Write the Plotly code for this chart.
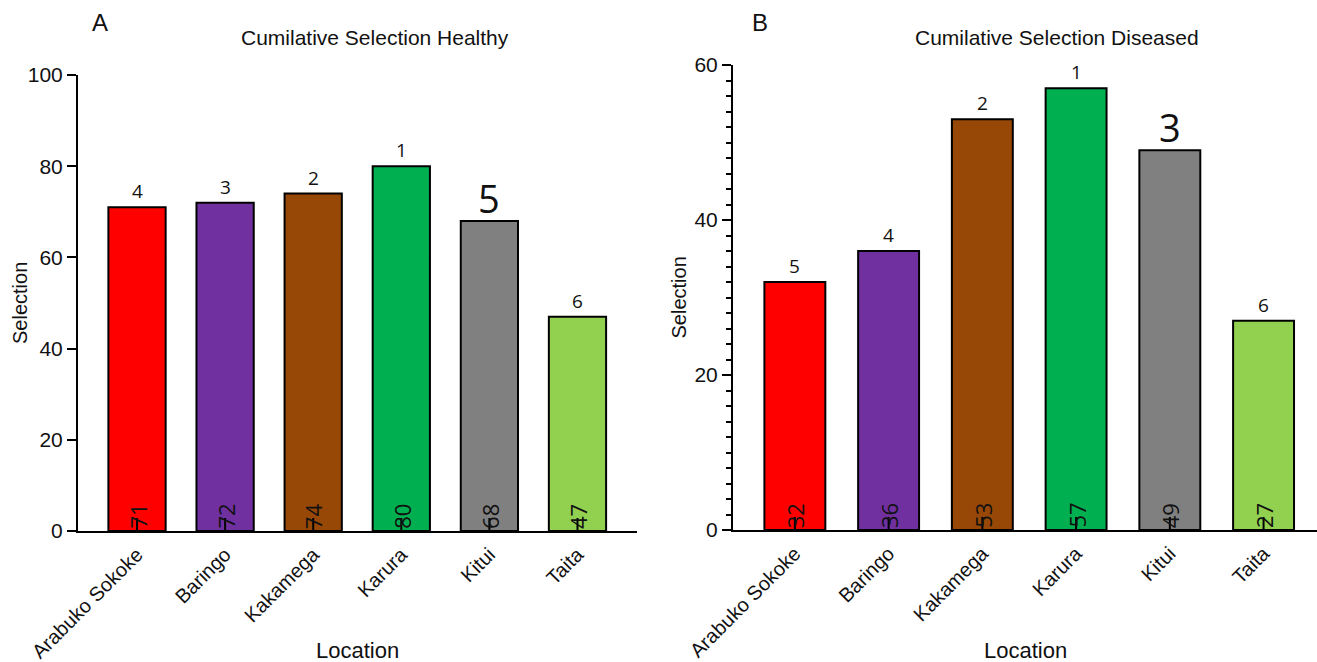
import plotly.graph_objects as go

# Locations and colours shared by both panels
locations = ["Arabuko Sokoke", "Baringo", "Kakamega", "Karura", "Kitui", "Taita"]
bar_colors = ["#FF0000", "#7030A0", "#974706", "#00B050", "#808080", "#92D050"]

# Panel A: healthy trees
healthy_values = [71, 72, 74, 80, 68, 47]
healthy_ranks = ["4", "3", "2", "1", "5", "6"]

# Panel B: diseased trees
diseased_values = [32, 36, 53, 57, 49, 27]
diseased_ranks = ["5", "4", "2", "1", "3", "6"]

W, H = 1317, 662


def px_x(p):
    return p / W


def px_y(p):
    return (H - p) / H


fig = go.Figure()

panels = [
    dict(vals=healthy_values, ranks=healthy_ranks, big="5", xa="x", ya="y",
         xdom=[px_x(78), px_x(636.5)], ydom=[px_y(531), px_y(75)],
         yrange=[0, 100], dtick=20, minor=False, xrange=[-0.67, 5.67],
         letter="A", letter_x=100, title="Cumilative Selection Healthy",
         title_x=375, ytitle_x=20, xtitle_x=357),
    dict(vals=diseased_values, ranks=diseased_ranks, big="3", xa="x2", ya="y2",
         xdom=[px_x(733), 1.0], ydom=[px_y(530), px_y(65)],
         yrange=[0, 60], dtick=20, minor=True, xrange=[-0.66, 5.57],
         letter="B", letter_x=760, title="Cumilative Selection Diseased",
         title_x=1057, ytitle_x=678, xtitle_x=1025),
]

annotations = []
shapes = []
sans = "Liberation Sans, Arial"
tick_font = dict(family=sans, size=21, color="#111")

for i, p in enumerate(panels):
    fig.add_trace(go.Bar(
        x=locations, y=p["vals"], xaxis=p["xa"], yaxis=p["ya"],
        marker=dict(color=bar_colors, line=dict(color="black", width=2)),
        width=0.65, showlegend=False, hoverinfo="x+y",
    ))
    sfx = "" if i == 0 else "2"
    fig.update_layout(**{
        "xaxis" + sfx: dict(
            domain=p["xdom"], anchor=p["ya"], range=p["xrange"],
            type="category", showline=True, linecolor="black", linewidth=2,
            ticks="", tickangle=-45, showgrid=False, zeroline=False,
            automargin=False, ticklabelstandoff=2,
            tickfont=dict(family=sans, size=20, color="#111"),
        ),
        "yaxis" + sfx: dict(
            domain=p["ydom"], anchor=p["xa"], range=p["yrange"], dtick=p["dtick"],
            showline=True, linecolor="black", linewidth=2, ticks="outside",
            ticklen=9, tickwidth=2, tickcolor="black", showgrid=False,
            zeroline=False, automargin=False, tickfont=tick_font,
            minor=dict(ticks="outside", dtick=2, ticklen=5, tickwidth=2,
                       tickcolor="black") if p["minor"] else None,
        ),
    })
    # axis titles
    annotations.append(dict(
        text="Selection", xref="paper", yref="paper", x=px_x(p["ytitle_x"]),
        y=(p["ydom"][0] + p["ydom"][1]) / 2, textangle=-90, showarrow=False,
        xanchor="center", yanchor="middle",
        font=dict(family=sans, size=20, color="#111"),
    ))
    annotations.append(dict(
        text="Location", xref="paper", yref="paper", x=px_x(p["xtitle_x"]),
        y=px_y(650), showarrow=False, xanchor="center", yanchor="middle",
        font=dict(family=sans, size=22, color="#111"),
    ))
    # panel letter and title
    annotations.append(dict(
        text=p["letter"], xref="paper", yref="paper", x=px_x(p["letter_x"]),
        y=px_y(23), showarrow=False, xanchor="center", yanchor="middle",
        font=dict(family=sans, size=24, color="#111"),
    ))
    annotations.append(dict(
        text=p["title"], xref="paper", yref="paper", x=px_x(p["title_x"]),
        y=px_y(38), showarrow=False, xanchor="center", yanchor="middle",
        font=dict(family=sans, size=21, color="#111"),
    ))
    for loc, v, r in zip(locations, p["vals"], p["ranks"]):
        big = r == p["big"]
        # rank above each bar
        annotations.append(dict(
            text=r, x=loc, y=v, xref=p["xa"], yref=p["ya"], showarrow=False,
            xanchor="center", yanchor="bottom", yshift=-5 if big else 1,
            font=dict(family="Open Sans", size=38 if big else 19, color="#111"),
        ))
        # value written upward at the foot of each bar
        annotations.append(dict(
            text=str(v), x=loc, y=0, xref=p["xa"], yref=p["ya"], showarrow=False,
            xanchor="center", yanchor="bottom", textangle=-90, yshift=0,
            font=dict(family="Open Sans", size=22, color="#111"),
        ))
        # short stem rising from the baseline
        shapes.append(dict(
            type="line", xref=p["xa"], yref=p["ya"], x0=loc, x1=loc,
            ysizemode="pixel", yanchor=0, y0=0, y1=13,
            line=dict(color="black", width=2),
        ))

fig.update_layout(
    width=W, height=H, margin=dict(l=0, r=0, t=0, b=0),
    paper_bgcolor="white", plot_bgcolor="white",
    annotations=annotations, shapes=shapes, bargap=0.35,
)

fig.write_html("out.html")
